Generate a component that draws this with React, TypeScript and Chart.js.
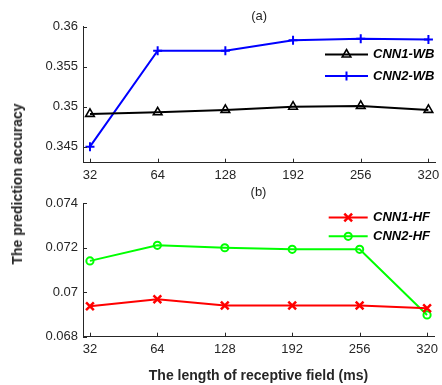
import React, { useEffect, useRef } from 'react';
import { Chart, registerables } from 'chart.js';
import { drawPoint } from 'chart.js/helpers';

Chart.register(...registerables);

const xLabels = ['32', '64', '128', '192', '256', '320'];
const cnn1WB = [0.3491, 0.3493, 0.3496, 0.35, 0.3501, 0.3496];
const cnn2WB = [0.345, 0.357, 0.357, 0.3583, 0.3585, 0.3584];
const cnn1HF = [0.06937, 0.06968, 0.0694, 0.0694, 0.0694, 0.06928];
const cnn2HF = [0.07141, 0.07211, 0.072, 0.07193, 0.07193, 0.06898];
const yTicksA = [0.345, 0.35, 0.355, 0.36];
const yTicksB = [0.068, 0.07, 0.072, 0.074];
const yRangeA = [0.343, 0.36];
const yRangeB = [0.068, 0.074];

const FONT = "'Liberation Sans', Arial, Helvetica, sans-serif";
const INK = '#262626';

const toPoints = (vals: number[]) => vals.map((v, i) => ({ x: i, y: v }));

const inTicks = {
  id: 'inTicks',
  afterDraw(chart: any) {
    const { ctx, chartArea } = chart;
    const xs = chart.scales.x;
    const ys = chart.scales.y;
    ctx.save();
    ctx.strokeStyle = INK;
    ctx.lineWidth = 1;
    ctx.beginPath();
    xs.ticks.forEach((t: any) => {
      const px = Math.round(xs.getPixelForValue(t.value)) + 0.5;
      ctx.moveTo(px, chartArea.bottom);
      ctx.lineTo(px, chartArea.bottom - 4);
    });
    ys.ticks.forEach((t: any) => {
      const py = Math.round(ys.getPixelForValue(t.value)) + 0.5;
      ctx.moveTo(chartArea.left, py);
      ctx.lineTo(chartArea.left + 4, py);
    });
    ctx.stroke();
    ctx.restore();
  },
};

const lineLegend = {
  id: 'lineLegend',
  afterDatasetsDraw(chart: any, _args: any, opts: any) {
    const { ctx } = chart;
    chart.data.datasets.forEach((ds: any, i: number) => {
      const y = opts.rows[i];
      ctx.save();
      ctx.strokeStyle = ds.borderColor;
      ctx.lineWidth = ds.borderWidth;
      ctx.beginPath();
      ctx.moveTo(opts.x0, y);
      ctx.lineTo(opts.x1, y);
      ctx.stroke();
      ctx.lineWidth = ds.pointBorderWidth;
      ctx.fillStyle = 'rgba(0,0,0,0)';
      drawPoint(
        ctx,
        { pointStyle: ds.pointStyle, radius: ds.pointRadius, rotation: 0, borderWidth: ds.pointBorderWidth } as any,
        (opts.x0 + opts.x1) / 2,
        y
      );
      ctx.fillStyle = '#000';
      ctx.font = `italic bold 13px ${FONT}`;
      ctx.textBaseline = 'middle';
      ctx.textAlign = 'left';
      ctx.fillText(ds.label, opts.tx, y);
      ctx.restore();
    });
  },
};

function makeDataset(label: string, vals: number[], color: string, style: string, radius: number, pbw: number) {
  return {
    label,
    data: toPoints(vals),
    borderColor: color,
    borderWidth: 2,
    pointStyle: style,
    pointRadius: radius,
    pointBorderWidth: pbw,
    pointBorderColor: color,
    pointBackgroundColor: 'rgba(0,0,0,0)',
    tension: 0,
  };
}

function makeConfig(p: {
  datasets: any[];
  yRange: number[];
  yTicks: number[];
  title: string;
  titlePad: { top: number; bottom: number };
  xAxisHeight: number;
  xTitle: string | null;
  legend: any;
}) {
  return {
    type: 'line' as const,
    data: { datasets: p.datasets },
    plugins: [inTicks, lineLegend],
    options: {
      animation: false,
      responsive: false,
      layout: { padding: { left: 0, right: 5, top: 0, bottom: 0 } },
      plugins: {
        legend: { display: false },
        tooltip: { enabled: false },
        title: {
          display: true,
          text: p.title,
          color: INK,
          fullSize: false,
          font: { family: FONT, size: 13, weight: 'normal', lineHeight: 1.2 },
          padding: p.titlePad,
        },
        lineLegend: p.legend,
      },
      scales: {
        x: {
          type: 'linear',
          min: -0.103,
          max: 5.103,
          afterBuildTicks: (s: any) => {
            s.ticks = xLabels.map((_, i) => ({ value: i }));
          },
          afterFit: (s: any) => {
            s.height = p.xAxisHeight;
            s.paddingLeft = 0;
            s.paddingRight = 0;
          },
          ticks: {
            color: INK,
            font: { family: FONT, size: 13 },
            padding: 5,
            maxRotation: 0,
            autoSkip: false,
            callback: (v: any) => xLabels[v] ?? '',
          },
          grid: { display: true, drawOnChartArea: false, drawTicks: false },
          border: { display: true, color: INK, width: 1 },
          title: p.xTitle
            ? {
                display: true,
                text: p.xTitle,
                color: INK,
                font: { family: FONT, size: 14, weight: 'bold', lineHeight: 1.2 },
                padding: { top: 0, bottom: 0 },
              }
            : { display: false },
        },
        y: {
          type: 'linear',
          min: p.yRange[0],
          max: p.yRange[1],
          afterBuildTicks: (s: any) => {
            s.ticks = p.yTicks.map((v) => ({ value: v }));
          },
          afterFit: (s: any) => {
            s.width = 83;
          },
          ticks: {
            color: INK,
            font: { family: FONT, size: 13 },
            padding: 5,
            callback: (v: any) => String(v),
          },
          grid: { display: true, drawOnChartArea: false, drawTicks: false },
          border: { display: true, color: INK, width: 1 },
        },
      },
    },
  };
}

export default function App() {
  const topRef = useRef<HTMLCanvasElement>(null);
  const botRef = useRef<HTMLCanvasElement>(null);

  useEffect(() => {
    const top = new Chart(
      topRef.current!,
      makeConfig({
        datasets: [
          makeDataset('CNN1-WB', cnn1WB, '#000000', 'triangle', 5, 1.6),
          makeDataset('CNN2-WB', cnn2WB, '#0000ff', 'cross', 4.5, 2),
        ],
        yRange: yRangeA,
        yTicks: yTicksA,
        title: '(a)',
        titlePad: { top: 8.2, bottom: 2.9 },
        xAxisHeight: 21.3,
        xTitle: null,
        legend: { x0: 325, x1: 368, tx: 373, rows: [54.5, 76] },
      }) as any
    );
    const bot = new Chart(
      botRef.current!,
      makeConfig({
        datasets: [
          makeDataset('CNN1-HF', cnn1HF, '#ff0000', 'crossRot', 5.5, 2.5),
          makeDataset('CNN2-HF', cnn2HF, '#00ff00', 'circle', 3.6, 2),
        ],
        yRange: yRangeB,
        yTicks: yTicksB,
        title: '(b)',
        titlePad: { top: 0.7, bottom: 3.0 },
        xAxisHeight: 48.3,
        xTitle: 'The length of receptive field (ms)',
        legend: { x0: 328.7, x1: 367.7, tx: 373, rows: [33.4, 52.3] },
      }) as any
    );
    return () => {
      top.destroy();
      bot.destroy();
    };
  }, []);

  return (
    <div style={{ position: 'absolute', left: 0, top: 0, width: 442, height: 385, background: '#fff', overflow: 'hidden' }}>
      <canvas ref={topRef} width={442} height={184} style={{ position: 'absolute', left: 0, top: 0, width: 442, height: 184 }} />
      <canvas ref={botRef} width={442} height={201} style={{ position: 'absolute', left: 0, top: 184, width: 442, height: 201 }} />
      <div
        style={{
          position: 'absolute',
          left: 17,
          top: 184,
          transform: 'translate(-50%, -50%) rotate(-90deg)',
          whiteSpace: 'nowrap',
          fontFamily: FONT,
          fontWeight: 'bold',
          fontSize: 14,
          color: INK,
          lineHeight: '16px',
        }}
      >
        The prediction accuracy
      </div>
    </div>
  );
}
